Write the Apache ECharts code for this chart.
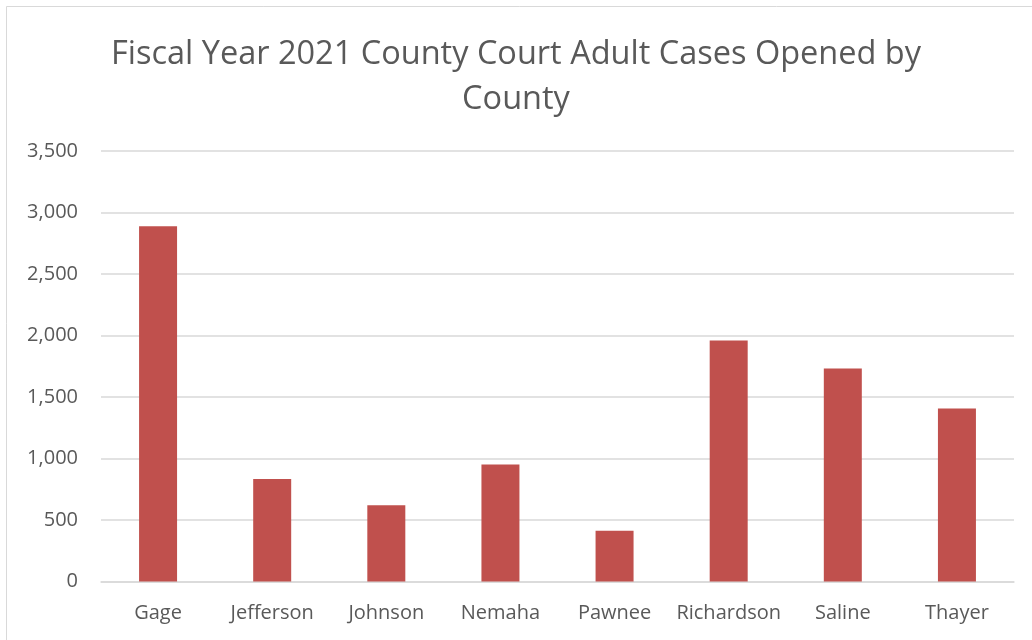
<!DOCTYPE html>
<html>
<head>
<meta charset="utf-8">
<script src="https://cdn.jsdelivr.net/npm/echarts@6/dist/echarts.min.js"></script>
<style>html,body{margin:0;padding:0;background:#fff}#c{width:1032px;height:640px}</style>
</head>
<body>
<div id="c"></div>
<script>
const titleText = "Fiscal Year 2021 County Court Adult Cases Opened by\nCounty";
const categories = ["Gage", "Jefferson", "Johnson", "Nemaha", "Pawnee", "Richardson", "Saline", "Thayer"];
const casesOpened = [2888, 833, 619, 952, 413, 1960, 1732, 1407];

const chart = echarts.init(document.getElementById('c'), null, {renderer: 'canvas'});
const font = '"Open Sans", sans-serif';
chart.setOption({
  animation: false,
  backgroundColor: '#fff',
  graphic: [{
    type: 'rect', shape: {x: 6.5, y: 6.5, width: 1040, height: 650},
    style: {fill: 'none', stroke: '#d9d9d9', lineWidth: 1}, silent: true
  }],
  title: {
    text: titleText, left: 'center', top: 27,
    textStyle: {fontFamily: font, fontSize: 32.5, fontWeight: 'normal', color: '#595959', lineHeight: 45}
  },
  grid: {left: 101, right: 18, top: 151, bottom: 58.5, containLabel: false},
  xAxis: {
    type: 'category', data: categories,
    axisLine: {lineStyle: {color: '#d9d9d9', width: 1.5}},
    axisTick: {show: false},
    axisLabel: {fontFamily: font, fontSize: 20, color: '#595959', margin: 22, interval: 0}
  },
  yAxis: {
    type: 'value', min: 0, max: 3500, interval: 500,
    axisLine: {show: false}, axisTick: {show: false},
    splitLine: {lineStyle: {color: '#d9d9d9', width: 1.5}},
    axisLabel: {fontFamily: font, fontSize: 20, color: '#595959', margin: 23,
      formatter: v => v.toLocaleString('en-US')}
  },
  series: [{
    type: 'bar', data: casesOpened, barWidth: 38,
    itemStyle: {color: '#C0504D'}
  }]
});
</script>
</body>
</html>
